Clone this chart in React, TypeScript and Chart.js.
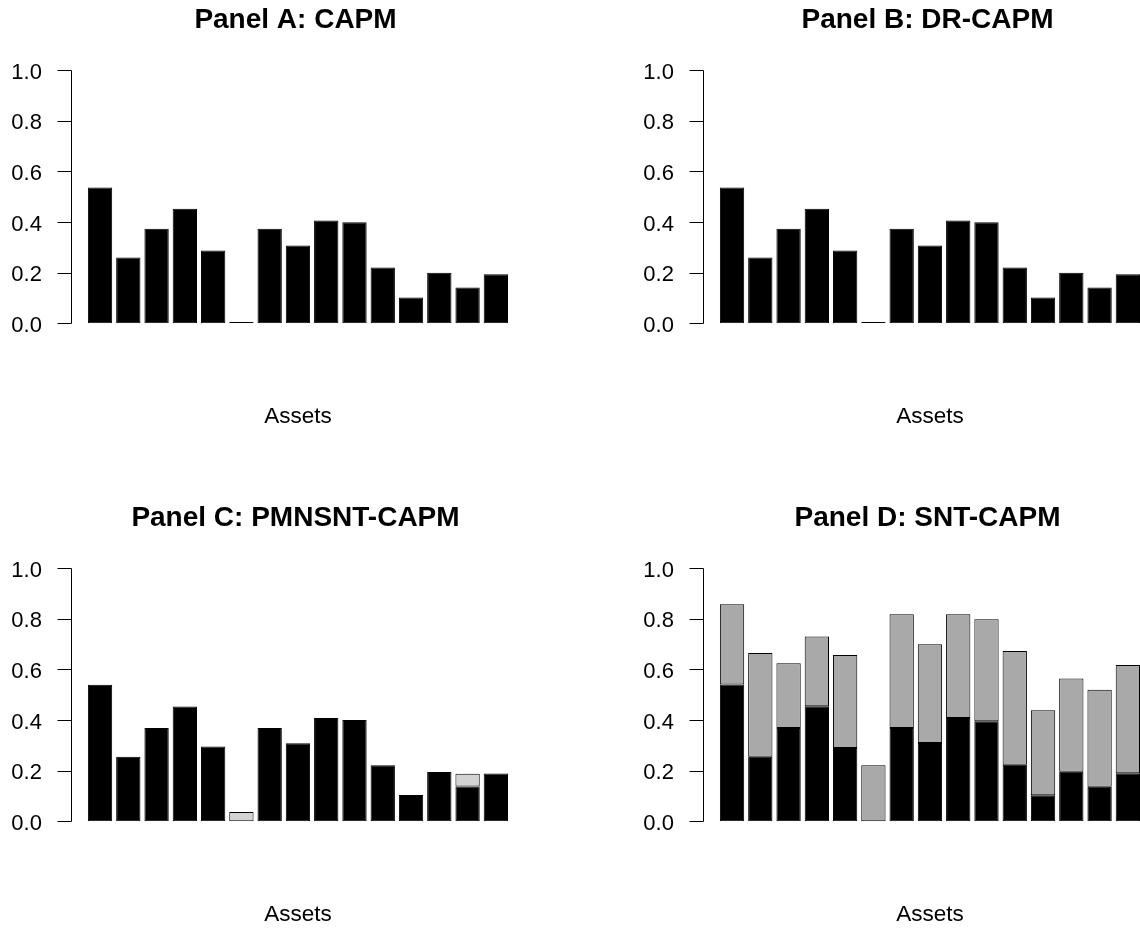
import React, { useEffect, useRef } from "react";
import { Chart, registerables } from "chart.js";

Chart.register(...registerables);

// ---- Data ----
const assets = ["1", "2", "3", "4", "5", "6", "7", "8", "9", "10", "11", "12", "13", "14", "15"];
const yTicks = [0, 0.2, 0.4, 0.6, 0.8, 1.0];

const panelTitles = [
  "Panel A: CAPM",
  "Panel B: DR-CAPM",
  "Panel C: PMNSNT-CAPM",
  "Panel D: SNT-CAPM",
];
const xAxisTitle = "Assets";

const capmValues = [0.536, 0.26, 0.373, 0.452, 0.287, 0.005, 0.373, 0.307, 0.406, 0.399, 0.22, 0.102, 0.2, 0.141, 0.194];
const drCapmValues = [0.536, 0.26, 0.373, 0.452, 0.287, 0.005, 0.373, 0.307, 0.406, 0.399, 0.22, 0.102, 0.2, 0.141, 0.194];
const pmnsntBase = [0.539, 0.255, 0.368, 0.453, 0.295, 0, 0.368, 0.308, 0.408, 0.4, 0.221, 0.104, 0.195, 0.137, 0.189];
const pmnsntExtra = [0, 0, 0, 0, 0, 0.037, 0, 0, 0, 0, 0, 0, 0, 0.051, 0];
const sntBase = [0.54, 0.255, 0.368, 0.454, 0.289, 0, 0.368, 0.309, 0.408, 0.395, 0.223, 0.103, 0.196, 0.136, 0.19];
const sntTotal = [0.857, 0.664, 0.624, 0.73, 0.657, 0.221, 0.817, 0.699, 0.817, 0.798, 0.672, 0.438, 0.564, 0.519, 0.617];

const FONT = "'Liberation Sans', Arial, Helvetica, sans-serif";
const BLACK = "#000000";
const DARK_GREY = "#a9a9a9";
const LIGHT_GREY = "#d3d3d3";

const CANVAS_W = 591;
const CANVAS_H = 470;

type DS = { label: string; data: number[]; color: string };

const rAxisPlugin = {
  id: "rAxis",
  afterDraw(chart: any) {
    const { ctx, chartArea, scales } = chart;
    const y = scales.y;
    const x0 = Math.round(chartArea.left - 15) + 0.5;
    ctx.save();
    ctx.strokeStyle = "#000";
    ctx.lineWidth = 1;
    ctx.beginPath();
    const top = Math.round(y.getPixelForValue(yTicks[yTicks.length - 1])) + 0.5;
    const bot = Math.round(y.getPixelForValue(yTicks[0])) + 0.5;
    ctx.moveTo(x0, bot);
    ctx.lineTo(x0, top);
    yTicks.forEach((v) => {
      const py = Math.round(y.getPixelForValue(v)) + 0.5;
      ctx.moveTo(x0 - 14, py);
      ctx.lineTo(x0, py);
    });
    ctx.stroke();
    ctx.restore();
  },
};

function Panel({ title, series, left, top }: { title: string; series: DS[]; left: number; top: number }) {
  const ref = useRef<HTMLCanvasElement | null>(null);
  useEffect(() => {
    if (!ref.current) return;
    const chart = new Chart(ref.current, {
      type: "bar",
      data: {
        labels: assets,
        datasets: series.map((s) => ({
          label: s.label,
          data: s.data,
          backgroundColor: s.color,
          borderColor: BLACK,
          borderWidth: 1,
          borderSkipped: false,
          categoryPercentage: 1,
          barPercentage: 0.86,
        })),
      },
      options: {
        animation: false,
        responsive: false,
        devicePixelRatio: 1,
        layout: { padding: 0 },
        plugins: {
          legend: { display: false },
          tooltip: { enabled: false },
          title: {
            display: true,
            text: title,
            color: "#000",
            font: { family: FONT, size: 28, weight: "bold", lineHeight: 1.2 },
            padding: { top: 3.4, bottom: 33 },
          },
        },
        scales: {
          x: {
            stacked: true,
            grid: { display: false, drawTicks: false },
            border: { display: false },
            ticks: { display: false },
            title: {
              display: true,
              text: xAxisTitle,
              color: "#000",
              font: { family: FONT, size: 22.5, lineHeight: 1.2 },
              padding: { top: 80.2, bottom: 39.5 },
            },
          },
          y: {
            stacked: true,
            min: 0,
            max: 1,
            grid: { display: false, drawTicks: false },
            border: { display: false },
            ticks: {
              stepSize: 0.2,
              padding: 44,
              labelOffset: 2.5,
              color: "#000",
              font: { family: FONT, size: 22 },
              callback: (v: any) => Number(v).toFixed(1),
            },
            afterFit: (scale: any) => {
              scale.width = 85.9;
            },
          },
          spacer: {
            type: "linear",
            position: "right",
            display: true,
            grid: { display: false, drawTicks: false },
            border: { display: false },
            ticks: { display: false },
            afterFit: (scale: any) => {
              scale.width = CANVAS_W - 510;
            },
          },
        },
      },
      plugins: [rAxisPlugin],
    });
    return () => chart.destroy();
  }, [title, series]);
  return (
    <div style={{ position: "absolute", left, top, width: CANVAS_W, height: CANVAS_H }}>
      <canvas
        ref={ref}
        width={CANVAS_W}
        height={CANVAS_H}
        style={{ display: "block", width: CANVAS_W, height: CANVAS_H }}
      />
    </div>
  );
}

const panelA: DS[] = [{ label: "CAPM", data: capmValues, color: BLACK }];
const panelB: DS[] = [{ label: "DR-CAPM", data: drCapmValues, color: BLACK }];
const panelC: DS[] = [
  { label: "PMNSNT-CAPM base", data: pmnsntBase, color: BLACK },
  { label: "PMNSNT-CAPM extra", data: pmnsntExtra, color: LIGHT_GREY },
];
const panelD: DS[] = [
  { label: "SNT-CAPM base", data: sntBase, color: BLACK },
  { label: "SNT-CAPM extra", data: sntTotal.map((t, i) => +(t - sntBase[i]).toFixed(3)), color: DARK_GREY },
];

export default function App() {
  return (
    <div
      style={{
        position: "fixed",
        left: 0,
        top: 0,
        width: 1140,
        height: 928,
        overflow: "hidden",
        background: "#ffffff",
      }}
    >
      <Panel title={panelTitles[0]} series={panelA} left={0} top={0} />
      <Panel title={panelTitles[2]} series={panelC} left={0} top={498} />
      <Panel title={panelTitles[1]} series={panelB} left={632} top={0} />
      <Panel title={panelTitles[3]} series={panelD} left={632} top={498} />
    </div>
  );
}
